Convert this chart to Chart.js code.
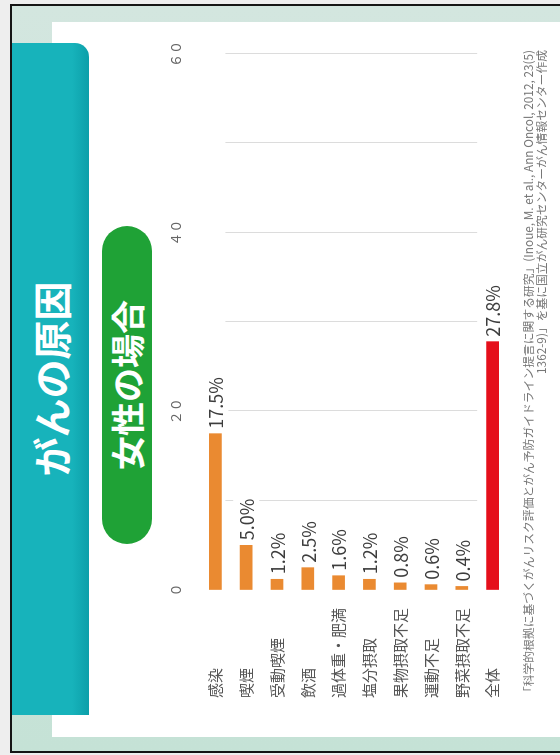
<!DOCTYPE html>
<html lang="ja">
<head>
<meta charset="utf-8">
<title>がんの原因 女性の場合</title>
<script src="https://cdn.jsdelivr.net/npm/chart.js@4.4.1/dist/chart.umd.min.js"></script>
<style>
  html, body { margin: 0; padding: 0; }
  body { width: 560px; height: 755px; overflow: hidden; background: #eeeeee; position: relative; }

  /* slide is laid out landscape, then turned a quarter to the left */
  #slide {
    position: absolute; left: 0; top: 0;
    width: 755px; height: 560px;
    transform-origin: top left;
    transform: translateY(755px) rotate(-90deg);
    font-family: "Noto Sans CJK JP", "Noto Sans", sans-serif;
  }
  .frame {
    position: absolute; left: 2px; top: 10px; width: 745px; height: 560px;
    border: 2px solid #151515; border-bottom: none;
    background: linear-gradient(90deg, #c5e2d6 0%, #d3e6df 100%);
  }
  .panel {
    position: absolute; left: 18px; top: 52px; width: 715px; height: 520px;
    background: #ffffff;
  }
  .band {
    position: absolute; left: 40px; top: 12px; width: 672px; height: 77px;
    background: linear-gradient(180deg, #17b3bb 0%, #17b3bb 78%, #0c9fa9 100%);
    border-bottom-right-radius: 14px;
  }
  .title {
    position: absolute; left: 40px; top: 12px; width: 672px; height: 77px;
    text-align: center; line-height: 77px;
    color: #ffffff; font-size: 39px; font-weight: 700;
  }
  .pill {
    position: absolute; left: 211px; top: 102px; width: 318px; height: 50px;
    border-radius: 25px; background: #1fa236;
    color: #ffffff; font-size: 34px; font-weight: 700;
    text-align: center; line-height: 50px;
  }
  .chart-box {
    position: absolute; left: 50px; top: 150px; width: 680px; height: 370px;
  }
  .note {
    position: absolute; right: 50px; white-space: nowrap;
    font-size: 11.8px; line-height: 13px; color: #777777;
  }
</style>
</head>
<body>
<div id="slide">
  <div class="frame"></div>
  <div class="panel"></div>
  <div class="band"></div>
  <div class="title">がんの原因</div>
  <div class="pill">女性の場合</div>
  <div class="chart-box"><canvas id="chart-causes"></canvas></div>
  <div class="note" style="top:521px">「科学的根拠に基づくがんリスク評価とがん予防ガイドライン提言に関する研究」(Inoue, M. et al., Ann Oncol, 2012, 23(5)</div>
  <div class="note" style="top:534px">1362-9)」を基に国立がん研究センターがん情報センター作成</div>
</div>

<script>
// attributable fraction of cancer among women, percent
const categories = ["感染", "喫煙", "受動喫煙", "飲酒", "過体重・肥満", "塩分摂取", "果物摂取不足", "運動不足", "野菜摂取不足", "全体"];
const shares     = [17.5, 5.0, 1.2, 2.5, 1.6, 1.2, 0.8, 0.6, 0.4, 27.8];
const barColors  = ["#ea8a31", "#ea8a31", "#ea8a31", "#ea8a31", "#ea8a31", "#ea8a31", "#ea8a31", "#ea8a31", "#ea8a31", "#e50f1b"];
const tickLabels = [0, 20, 40, 60];

const fullWidth = s => String(s).replace(/\d/g, d => String.fromCharCode(d.charCodeAt(0) + 0xFEE0));

// grid lines stop short of the total row
const partialGrid = {
  id: "partialGrid",
  beforeDatasetsDraw(chart) {
    const { ctx, scales: { x, y } } = chart;
    const start = y.getPixelForValue(0) + 10;
    const end = (y.getPixelForValue(categories.length - 2) + y.getPixelForValue(categories.length - 1)) / 2;
    ctx.save();
    ctx.strokeStyle = "#dcdcdc";
    ctx.lineWidth = 1;
    x.ticks.forEach(t => {
      if (t.value === 0) return;
      const px = Math.round(x.getPixelForValue(t.value)) + 0.5;
      ctx.beginPath();
      ctx.moveTo(px, start);
      ctx.lineTo(px, end);
      ctx.stroke();
    });
    ctx.restore();
  }
};

// percent text just past the end of each bar, on a white patch
const valueLabels = {
  id: "valueLabels",
  afterDatasetsDraw(chart) {
    const { ctx } = chart;
    const meta = chart.getDatasetMeta(0);
    ctx.save();
    ctx.font = '18px "Noto Sans CJK JP", sans-serif';
    ctx.textAlign = "left";
    ctx.textBaseline = "middle";
    meta.data.forEach((bar, i) => {
      const text = shares[i].toFixed(1) + "%";
      const w = ctx.measureText(text).width;
      ctx.fillStyle = "#ffffff";
      ctx.fillRect(bar.x + 3, bar.y - 13, w + 6, 26);
      ctx.fillStyle = "#3d3d3d";
      ctx.fillText(text, bar.x + 5, bar.y + 1);
    });
    ctx.restore();
  }
};

new Chart(document.getElementById("chart-causes"), {
  type: "bar",
  data: {
    labels: categories,
    datasets: [{
      data: shares,
      backgroundColor: barColors,
      borderWidth: 0,
      barThickness: 12
    }]
  },
  options: {
    indexAxis: "y",
    responsive: true,
    maintainAspectRatio: false,
    animation: false,
    layout: { padding: { left: 7, right: 23, top: 15, bottom: 8 } },
    plugins: { legend: { display: false }, tooltip: { enabled: false } },
    scales: {
      x: {
        position: "top",
        min: 0, max: 60,
        border: { display: false },
        grid: { drawTicks: false, drawOnChartArea: false },
        ticks: {
          stepSize: 10,
          padding: 16,
          color: "#666666",
          font: { size: 13, family: "'Noto Sans CJK JP', sans-serif" },
          callback: v => tickLabels.includes(v) ? fullWidth(v) : ""
        },
        afterFit: s => { s.height = 35; }
      },
      y: {
        border: { display: false },
        grid: { display: false },
        ticks: {
          crossAlign: "far",
          color: "#555555",
          font: { size: 15, family: "'Noto Sans CJK JP', sans-serif" }
        },
        afterFit: s => { s.width = 108; }
      }
    }
  },
  plugins: [partialGrid, valueLabels]
});
</script>
</body>
</html>
